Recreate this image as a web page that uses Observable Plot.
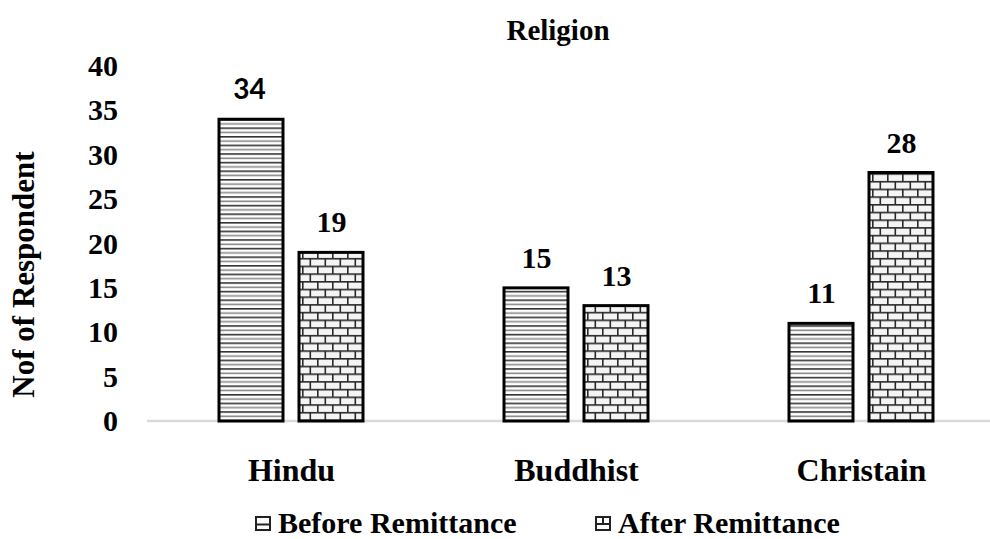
<!DOCTYPE html>
<html>
<head>
<meta charset="utf-8">
<script src="https://cdn.jsdelivr.net/npm/d3@7"></script>
<script src="https://cdn.jsdelivr.net/npm/@observablehq/plot@0.6"></script>
<style>
  html, body { margin: 0; padding: 0; background: #fff; overflow: hidden; }
  #wrap { position: relative; width: 990px; height: 539px; font-family: "Liberation Serif", "Times New Roman", serif; font-weight: bold; color: #000; }
  #title { position: relative; height: 50px; }
  #title span { position: absolute; left: 408px; width: 300px; top: 16px; text-align: center; font-size: 29px; line-height: 29px; }
  #chart { height: 455px; }
  #chart svg { display: block; }
  #legend { position: relative; height: 34px; }
  .item { position: absolute; top: 3px; font-size: 30px; line-height: 30px; white-space: nowrap; }
  .item svg { position: absolute; left: -23px; top: 8px; }
</style>
</head>
<body>
<div id="wrap">
  <div id="title"><span>Religion</span></div>
  <div id="chart"></div>
  <div id="legend"></div>
</div>
<script>
const religions = ["Hindu", "Buddhist", "Christain"];
const periods = ["Before Remittance", "After Remittance"];
const beforeValues = [34, 15, 11];
const afterValues = [19, 13, 28];
const yTicks = [0, 5, 10, 15, 20, 25, 30, 35, 40];
const yTitle = "Nof of Respondent";

const data = religions.flatMap((r, i) => [
  {religion: r, period: periods[0], value: beforeValues[i]},
  {religion: r, period: periods[1], value: afterValues[i]}
]);
const isSans = d => d.religion === "Hindu" && d.period === periods[0];

const SERIF = "'Liberation Serif', 'Times New Roman', serif";
const SANS = "Lato, 'Open Sans', sans-serif";

const chart = Plot.plot({
  width: 990,
  height: 455,
  marginTop: 16,
  marginBottom: 84,
  marginLeft: 147,
  marginRight: 0,
  style: {background: "white", overflow: "visible", color: "black"},
  fx: {domain: religions, paddingInner: 0.2, paddingOuter: 0.0764, align: 0.66, label: null},
  x: {domain: periods, paddingInner: 0.1975, paddingOuter: 0.5086, axis: null},
  y: {domain: [0, 40], label: null},
  color: {domain: periods, range: ["url(#hstripes)", "url(#bricks)"]},
  marks: [
    Plot.axisY({ticks: yTicks, tickSize: 0, tickPadding: 0, dx: -59.5, label: null, fontSize: 30}),
    Plot.axisFx({anchor: "bottom", tickSize: 0, tickPadding: 37, label: null, fontSize: 32}),
    Plot.barY(data, {fx: "religion", x: "period", y: "value", fill: "period", stroke: "black", strokeWidth: 3}),
    Plot.text(data.filter(d => !isSans(d)), {fx: "religion", x: "period", y: "value", text: d => String(d.value), dy: -30, fontSize: 30, fontWeight: "bold", fill: "black", fontFamily: SERIF}),
    Plot.text(data.filter(isSans), {fx: "religion", x: "period", y: "value", text: d => String(d.value), dy: -30, dx: -2, fontSize: 28, fontWeight: "bold", fill: "black", fontFamily: SANS})
  ]
});

document.getElementById("chart").appendChild(chart);

// enforce fonts on every text element of the chart
chart.querySelectorAll("text").forEach(el => {
  const sans = el.closest('[font-family*="Lato"]');
  el.style.fontFamily = sans ? SANS : SERIF;
  el.style.fontWeight = "bold";
  el.style.fill = "black";
  const g = el.closest("g[aria-label]");
  const lab = g ? g.getAttribute("aria-label") : "";
  if (lab.startsWith("y-axis")) el.style.fontSize = "30px";
  else if (lab.startsWith("fx-axis")) el.style.fontSize = "32px";
  else el.style.fontSize = sans ? "28px" : "30px";
});

// fill patterns
const ns = "http://www.w3.org/2000/svg";
const defs = document.createElementNS(ns, "defs");
defs.innerHTML = `
  <pattern id="hstripes" patternUnits="userSpaceOnUse" width="8" height="8.6">
    <rect width="8" height="8.6" fill="#ffffff"/>
    <rect y="0" width="8" height="1.6" fill="#333333"/>
    <rect y="4.3" width="8" height="1.6" fill="#8a8a8a"/>
  </pattern>
  <pattern id="bricks" patternUnits="userSpaceOnUse" width="15" height="15.4">
    <rect width="15" height="15.4" fill="#f4f4f4"/>
    <rect x="0" y="0" width="15" height="1.6" fill="#2a2a2a"/>
    <rect x="0" y="7.7" width="15" height="1.6" fill="#2a2a2a"/>
    <rect x="2" y="0" width="1.6" height="7.7" fill="#2a2a2a"/>
    <rect x="9.5" y="7.7" width="1.6" height="7.7" fill="#2a2a2a"/>
  </pattern>`;
chart.insertBefore(defs, chart.firstChild);

// light baseline across the whole plot width, placed with the plot's y scale
const yScale = chart.scale("y");
const y0 = yScale.apply(0);
const base = document.createElementNS(ns, "line");
base.setAttribute("x1", 147);
base.setAttribute("x2", 990);
base.setAttribute("y1", y0);
base.setAttribute("y2", y0);
base.setAttribute("stroke", "#d9d9d9");
base.setAttribute("stroke-width", 2.5);
chart.insertBefore(base, defs.nextSibling);

// rotated y axis title
const yMid = (yScale.apply(0) + yScale.apply(40)) / 2;
const t = document.createElementNS(ns, "text");
t.textContent = yTitle;
t.setAttribute("transform", `translate(34,${yMid + 31}) rotate(-90)`);
t.setAttribute("text-anchor", "middle");
t.style.fontFamily = SERIF;
t.style.fontSize = "31px";
t.style.fontWeight = "bold";
t.style.fill = "black";
chart.appendChild(t);

// legend
const legend = document.getElementById("legend");
const icons = [
  `<svg width="16" height="15" viewBox="0 0 16 15"><rect x="1" y="1" width="14" height="13" fill="#fff" stroke="#222" stroke-width="2"/><line x1="1" y1="8.5" x2="15" y2="8.5" stroke="#222" stroke-width="2"/></svg>`,
  `<svg width="16" height="15" viewBox="0 0 16 15"><rect x="1" y="1" width="14" height="13" fill="#fff" stroke="#222" stroke-width="2"/><line x1="1" y1="8" x2="15" y2="8" stroke="#222" stroke-width="2"/><line x1="8" y1="1" x2="8" y2="8" stroke="#222" stroke-width="2"/></svg>`
];
const lefts = [278, 618];
periods.forEach((p, i) => {
  const el = document.createElement("div");
  el.className = "item";
  el.style.left = lefts[i] + "px";
  el.innerHTML = icons[i] + "<span></span>";
  el.querySelector("span").textContent = p;
  legend.appendChild(el);
});
</script>
</body>
</html>
